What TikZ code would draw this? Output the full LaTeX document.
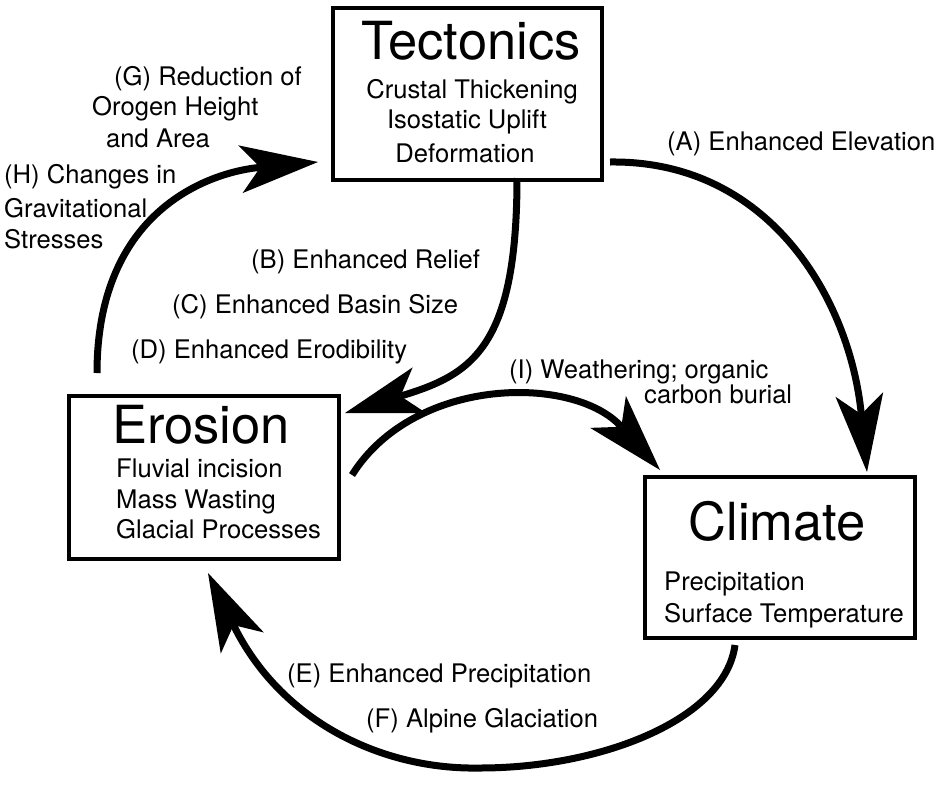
\documentclass[tikz,border=0pt]{standalone}
\usepackage{fontspec}
\setmainfont{TeX Gyre Heros}
\usetikzlibrary{arrows.meta}
\begin{document}
\begin{tikzpicture}[x=1pt,y=-1pt,
  box/.style={draw,line width=4pt,rectangle,inner sep=0pt,outer sep=0pt},
  ttl/.style={inner sep=0pt,anchor=base,font=\fontsize{52.5}{52.5}\selectfont},
  itemc/.style={inner sep=0pt,anchor=base,font=\fontsize{25.6}{30}\selectfont},
  lbl/.style={inner sep=0pt,anchor=base west,font=\fontsize{25.6}{30}\selectfont},
  flow/.style={line width=7pt,-{Stealth[length=78pt,width=48pt,inset=20pt,line width=0pt]}}]
\fill[white] (0,0) rectangle (947,790);
\useasboundingbox (0,0) rectangle (947,790);
% boxes
\node[box,minimum width=269pt,minimum height=172pt] (tect) at (467.5,94) {};
\node[box,minimum width=270pt,minimum height=163pt] (ero) at (204,477.5) {};
\node[box,minimum width=270pt,minimum height=161pt] (clim) at (780,557.5) {};
% box texts
\node[ttl] (tectT) at (471,59) {Tectonics};
\node[itemc] (tect1) at (472,98) {Crustal Thickening};
\node[itemc] (tect2) at (467,128) {Isostatic Uplift};
\node[itemc] (tect3) at (465,162) {Deformation};
\node[ttl] (eroT) at (201,443) {Erosion};
\node[lbl] (ero1) at (116,477) {Fluvial incision};
\node[lbl] (ero2) at (116,508) {Mass Wasting};
\node[lbl] (ero3) at (116,538) {Glacial Processes};
\node[ttl] (climT) at (777,540) {Climate};
\node[lbl] (clim1) at (664,590) {Precipitation};
\node[lbl] (clim2) at (664,622) {Surface Temperature};
% labels
\node[lbl] (g1) at (114,85) {(G) Reduction of};
\node[lbl] (g2) at (92,115) {Orogen Height};
\node[lbl] (g3) at (106,147) {and Area};
\node[lbl] (h1) at (4,183) {(H) Changes in};
\node[lbl] (h2) at (4,217) {Gravitational};
\node[lbl] (h3) at (4,248) {Stresses};
\node[lbl] (la) at (667,150) {(A) Enhanced Elevation};
\node[lbl] (lb) at (251,268) {(B) Enhanced Relief};
\node[lbl] (lc) at (172,313) {(C) Enhanced Basin Size};
\node[lbl] (ld) at (131,358) {(D) Enhanced Erodibility};
\node[lbl] (li1) at (509,378) {(I) Weathering; organic};
\node[lbl] (li2) at (644,403) {carbon burial};
\node[lbl] (le) at (287,682) {(E) Enhanced Precipitation};
\node[lbl] (lf) at (366,727) {(F) Alpine Glaciation};
% connectors
\draw[flow] ([shift={(8,-18)}]tect.south east) .. controls (770,160) and (850,300) .. ([shift={(222,-5)}]clim.north west);
\draw[flow] ([shift={(49.5,-2)}]tect.south) .. controls (517,350) and (470,375) .. ([shift={(6,17)}]ero.north east);
\draw[flow] ([shift={(13,-2.5)}]ero.east) .. controls (415,375) and (575,375) .. ([shift={(15,-7)}]clim.north west);
\draw[flow] ([shift={(28,-23)}]ero.north west) .. controls (97,210) and (210,172) .. ([shift={(-15,68)}]tect.west);
\draw[flow] ([shift={(90,7)}]clim.south west) .. controls (725,720) and (600,768) .. (480,768) .. controls (380,770) and (280,720) .. ([shift={(139,14)}]ero.south west);
\end{tikzpicture}
\end{document}
